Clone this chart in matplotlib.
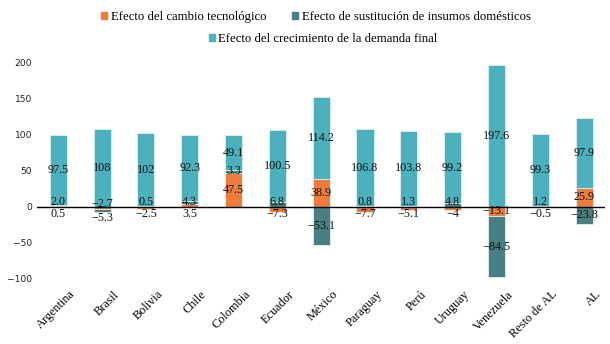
import numpy as np
import matplotlib
matplotlib.use('Agg')
import matplotlib.pyplot as plt
from matplotlib.patches import Patch
from matplotlib.transforms import ScaledTranslation

# data
paises = ['Argentina', 'Brasil', 'Bolivia', 'Chile', 'Colombia', 'Ecuador', 'México',
          'Paraguay', 'Perú', 'Uruguay', 'Venezuela', 'Resto de AL', 'AL']
tecnologico = [0.5, -2.7, -2.5, 3.5, 47.5, -7.3, 38.9, -7.7, -5.1, -4, -13.1, -0.5, 25.9]
sustitucion = [2.0, -5.3, 0.5, 4.3, 3.3, 6.8, -53.1, 0.8, 1.3, 4.8, -84.5, 1.2, -23.8]
demanda = [97.5, 108, 102, 92.3, 49.1, 100.5, 114.2, 106.8, 103.8, 99.2, 197.6, 99.3, 97.9]
etiquetas_tec = ['0.5', '\u22122.7', '\u22122.5', '3.5', '47.5', '\u22127.3', '38.9', '\u22127.7',
                 '\u22125.1', '\u22124', '\u221213.1', '\u22120.5', '25.9']
etiquetas_sus = ['2.0', '\u22125.3', '0.5', '4.3', '3.3', '6.8', '\u221253.1', '0.8', '1.3',
                 '4.8', '\u221284.5', '1.2', '\u221223.8']
etiquetas_dem = ['97.5', '108', '102', '92.3', '49.1', '100.5', '114.2', '106.8', '103.8',
                 '99.2', '197.6', '99.3', '97.9']

c_tec = '#ED7D3F'
c_sus = '#4A7F82'
c_dem = '#4DB0BD'

serif = ['Liberation Serif', 'DejaVu Serif']

fig = plt.figure(figsize=(6.1, 3.44), dpi=100)
ax = fig.add_axes([0.061, 0.19, 0.931, 0.627])

x = np.arange(len(paises))
w = 0.39
series = [(tecnologico, c_tec, etiquetas_tec), (sustitucion, c_sus, etiquetas_sus),
          (demanda, c_dem, etiquetas_dem)]

pos = np.zeros(len(x))
neg = np.zeros(len(x))
segs = []  # (bottom, value) per series
for vals, col, _ in series:
    vals = np.array(vals, dtype=float)
    base = np.where(vals >= 0, pos, neg)
    ax.bar(x, vals, w, bottom=base, color=col, edgecolor='#dff0f2', linewidth=0.6, zorder=2)
    segs.append((base.copy(), vals))
    pos = pos + np.where(vals >= 0, vals, 0)
    neg = neg + np.where(vals < 0, vals, 0)

ax.axhline(0, color='black', linewidth=1.0, zorder=3)

# labels: centred, small segments near zero pushed off the axis line
for i in range(len(x)):
    b_t, v_t = segs[0][0][i], segs[0][1][i]
    b_s, v_s = segs[1][0][i], segs[1][1][i]
    b_d, v_d = segs[2][0][i], segs[2][1][i]
    small_s = abs(v_s) < 10 and abs(b_s) < 10
    small_t = abs(v_t) < 10
    if small_s:
        y_s = 6 if v_s >= 0 else -15
    else:
        y_s = b_s + v_s / 2
    if small_t:
        if small_s and v_s < 0:
            y_t = 4
        else:
            y_t = -10
    else:
        y_t = b_t + v_t / 2
    y_d = b_d + v_d / 2
    for yy, txt in [(y_t, etiquetas_tec[i]), (y_s, etiquetas_sus[i]), (y_d, etiquetas_dem[i])]:
        ax.text(x[i], yy, txt, ha='center', va='center', fontsize=8.7,
                family=serif, color='#111111', zorder=4)

ax.set_xlim(-0.48, 12.48)
ax.set_ylim(-100, 200)
ax.set_yticks([-100, -50, 0, 50, 100, 150, 200])
ax.set_yticklabels(['\u2212100', '\u221250', '0', '50', '100', '150', '200'])
ax.tick_params(axis='y', length=0, labelsize=6.6, pad=3.5, labelcolor='#222222')
ax.set_xticks(x)
ax.set_xticklabels(paises, rotation=45, ha='right', rotation_mode='anchor',
                   family=serif, fontsize=8.8)
ax.tick_params(axis='x', length=0, pad=7)
shift = ScaledTranslation(0.11, 0, fig.dpi_scale_trans)
for lbl in ax.get_xticklabels():
    lbl.set_transform(lbl.get_transform() + shift)
for s in ax.spines.values():
    s.set_visible(False)

h_tec = Patch(color=c_tec, label='Efecto del cambio tecnológico')
h_sus = Patch(color=c_sus, label='Efecto de sustitución de insumos domésticos')
h_dem = Patch(color=c_dem, label='Efecto del crecimiento de la demanda final')
leg_kw = dict(frameon=False, handlelength=0.45, handleheight=0.45, handletextpad=0.3,
              prop={'family': serif, 'size': 9.2})
fig.legend(handles=[h_tec, h_sus], loc='center', bbox_to_anchor=(0.518, 0.95), ncol=2,
           columnspacing=2.0, **leg_kw)
fig.legend(handles=[h_dem], loc='center', bbox_to_anchor=(0.53, 0.886), **leg_kw)

fig.savefig('out.png', dpi=100)
